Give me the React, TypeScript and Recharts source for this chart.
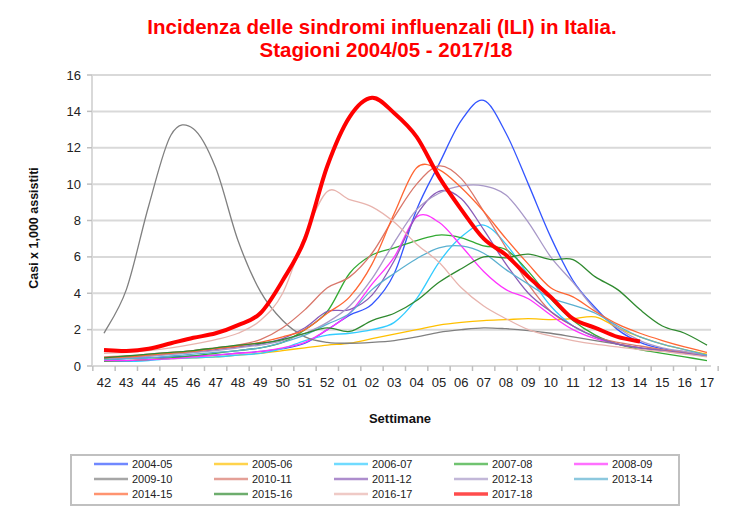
import React from 'react';
import { LineChart, Line, XAxis, YAxis, CartesianGrid } from 'recharts';

const weeks = ['42','43','44','45','46','47','48','49','50','51','52','01','02','03','04','05','06','07','08','09','10','11','12','13','14','15','16','17'];
const yTicks = [0, 2, 4, 6, 8, 10, 12, 14, 16];

const s2004_05 = [0.35,0.4,0.45,0.5,0.55,0.6,0.7,0.8,0.95,1.25,2.0,2.8,3.4,5.1,8.6,11.1,13.5,14.6,12.8,10.0,7.1,4.7,3.2,2.0,1.3,0.95,0.75,0.55];
const s2005_06 = [0.3,0.3,0.35,0.4,0.45,0.5,0.6,0.7,0.85,1.0,1.15,1.25,1.5,1.75,2.0,2.25,2.4,2.5,2.55,2.6,2.55,2.6,2.7,2.1,1.6,1.2,0.9,0.65];
const s2006_07 = [0.3,0.25,0.3,0.4,0.45,0.5,0.6,0.7,0.95,1.4,1.7,1.8,2.0,2.4,3.7,5.7,7.1,7.75,6.7,5.0,3.3,2.2,1.6,1.2,1.0,0.85,0.7,0.55];
const s2007_08 = [0.25,0.3,0.35,0.45,0.55,0.7,0.85,1.0,1.3,2.0,3.0,5.1,6.1,6.5,6.9,7.2,7.05,6.6,6.4,5.2,3.7,2.5,1.7,1.2,0.9,0.7,0.5,0.3];
const s2008_09 = [0.3,0.3,0.35,0.4,0.5,0.6,0.7,0.8,1.0,1.3,2.0,2.9,4.5,6.0,8.2,7.9,6.6,5.2,4.2,3.7,2.8,2.0,1.5,1.2,1.0,0.85,0.7,0.55];
const s2009_10 = [1.8,4.2,8.8,12.7,13.05,10.9,6.9,4.1,2.5,1.6,1.3,1.25,1.3,1.4,1.6,1.85,2.0,2.1,2.05,1.95,1.8,1.6,1.4,1.2,1.0,0.85,0.7,0.55];
const s2010_11 = [0.5,0.55,0.65,0.75,0.85,1.0,1.15,1.45,2.1,3.1,4.3,4.9,6.2,8.2,10.0,11.0,10.3,8.5,6.5,4.5,3.0,2.2,1.6,1.3,1.1,0.9,0.75,0.6];
const s2011_12 = [0.4,0.45,0.55,0.65,0.75,0.9,1.05,1.2,1.5,2.1,3.0,3.1,3.9,5.8,8.3,9.6,9.2,7.5,5.6,4.0,3.0,2.2,1.6,1.2,1.0,0.85,0.7,0.55];
const s2012_13 = [0.4,0.45,0.55,0.65,0.75,0.85,1.0,1.15,1.4,1.8,2.4,3.3,4.8,6.8,8.6,9.5,9.9,9.9,9.4,7.9,6.0,4.6,3.1,2.1,1.4,1.0,0.8,0.6];
const s2013_14 = [0.35,0.4,0.45,0.55,0.65,0.75,0.85,1.0,1.3,1.7,2.3,2.9,4.2,5.1,5.9,6.5,6.6,6.2,5.3,4.5,3.75,3.35,2.9,2.2,1.6,1.2,0.9,0.6];
const s2014_15 = [0.45,0.5,0.6,0.7,0.8,0.95,1.1,1.3,1.6,2.0,2.9,3.8,5.6,8.4,10.9,10.8,9.8,8.5,7.0,5.6,4.3,3.8,3.0,2.3,1.8,1.4,1.05,0.75];
const s2015_16 = [0.45,0.55,0.65,0.75,0.85,1.0,1.15,1.25,1.45,1.8,2.1,1.9,2.5,2.9,3.6,4.6,5.35,6.0,5.95,6.15,5.85,5.85,4.9,4.2,3.1,2.2,1.8,1.15];
const s2016_17 = [0.7,0.75,0.85,1.0,1.2,1.45,1.8,2.5,4.0,7.2,9.6,9.15,8.75,7.9,6.7,5.7,4.3,3.3,2.6,2.0,1.65,1.4,1.2,1.05,0.9,0.8,0.65,0.5];
const s2017_18 = [0.88,0.83,0.95,1.25,1.55,1.8,2.25,2.9,4.7,7.0,11.0,13.7,14.75,13.9,12.6,10.4,8.6,7.0,6.1,4.9,3.8,2.6,2.1,1.6,1.35];

const seasons = ['2004-05','2005-06','2006-07','2007-08','2008-09','2009-10','2010-11','2011-12','2012-13','2013-14','2014-15','2015-16','2016-17','2017-18'];
const seriesValues = [s2004_05,s2005_06,s2006_07,s2007_08,s2008_09,s2009_10,s2010_11,s2011_12,s2012_13,s2013_14,s2014_15,s2015_16,s2016_17,s2017_18];
const colors = ['#3355FF','#FFC000','#33CCFF','#33AA33','#FF33FF','#808080','#D9776B','#8A5CB8','#A898C8','#5BB0D0','#FF6633','#2F8A2F','#E8B4AE','#FF0000'];

const data = weeks.map((w, i) => {
  const row: Record<string, any> = { week: w };
  seasons.forEach((s, k) => {
    const v = seriesValues[k][i];
    row[s] = v === undefined ? null : v;
  });
  return row;
});

// Excel-like smoothed line (Catmull-Rom style Bezier through every point)
function smoothCurve(context: any) {
  let pts: [number, number][] = [];
  const draw = () => {
    const n = pts.length;
    if (n === 0) return;
    context.moveTo(pts[0][0], pts[0][1]);
    if (n === 1) return;
    for (let i = 0; i < n - 1; i++) {
      const p0 = pts[i - 1] || pts[i];
      const p1 = pts[i];
      const p2 = pts[i + 1];
      const p3 = pts[i + 2] || p2;
      const c1x = p1[0] + (p2[0] - p0[0]) / 6;
      const c1y = p1[1] + (p2[1] - p0[1]) / 6;
      const c2x = p2[0] - (p3[0] - p1[0]) / 6;
      const c2y = p2[1] - (p3[1] - p1[1]) / 6;
      context.bezierCurveTo(c1x, c1y, c2x, c2y, p2[0], p2[1]);
    }
  };
  return {
    areaStart() {},
    areaEnd() {},
    lineStart() { pts = []; },
    lineEnd() { draw(); pts = []; },
    point(x: number, y: number) { pts.push([+x, +y]); },
  };
}

const FONT = '"Liberation Sans", Arial, sans-serif';

const XTick = (props: any) => {
  const { x, y, payload, index } = props;
  const half = 11.17;
  return (
    <g>
      <line x1={x - half} x2={x - half} y1={y} y2={y + 5} stroke="#BFBFBF" strokeWidth={1.5} />
      {index === weeks.length - 1 && (
        <line x1={x + half} x2={x + half} y1={y} y2={y + 5} stroke="#BFBFBF" strokeWidth={1.5} />
      )}
      <text x={x} y={y + 12} dy="0.71em" textAnchor="middle" fontSize={13} fontFamily={FONT} fill="#222">
        {payload.value}
      </text>
    </g>
  );
};

export default function App() {
  const legendLeft = 71;
  const legendTop = 455;
  return (
    <div style={{ position: 'absolute', left: 0, top: 0, width: 741, height: 507, background: '#fff', fontFamily: FONT }}>
      <div style={{ position: 'absolute', left: 0, top: 0 }}>
        <LineChart width={741} height={507} data={data} margin={{ top: 75, right: 30, bottom: 111, left: 32 }}>
          <CartesianGrid vertical={false} stroke="#D9D9D9" strokeWidth={2} />
          <XAxis
            dataKey="week"
            height={30}
            interval={0}
            padding={{ left: 12, right: 4 }}
            tickLine={false}
            tickSize={0}
            tickMargin={0}
            axisLine={{ stroke: '#D9D9D9', strokeWidth: 2 }}
            tick={<XTick />}
          />
          <YAxis
            width={60}
            domain={[0, 16]}
            ticks={yTicks}
            interval={0}
            tickSize={5}
            tickMargin={6}
            tickLine={{ stroke: '#BFBFBF', strokeWidth: 1.5 }}
            axisLine={{ stroke: '#D9D9D9', strokeWidth: 2 }}
            tick={{ fontSize: 13, fontFamily: FONT, fill: '#222' }}
          />
          <YAxis
            yAxisId="border"
            orientation="right"
            width={0}
            domain={[0, 16]}
            tick={false}
            tickLine={false}
            axisLine={{ stroke: '#D9D9D9', strokeWidth: 2 }}
          />
          {seasons.map((s, k) => (
            <Line
              key={s}
              type={smoothCurve as any}
              dataKey={s}
              stroke={colors[k]}
              strokeWidth={s === '2017-18' ? 4 : 1.3}
              dot={false}
              activeDot={false}
              isAnimationActive={false}
            />
          ))}
        </LineChart>
      </div>
      <svg width={741} height={507} style={{ position: 'absolute', left: 0, top: 0, pointerEvents: 'none' }}>
        <text x={382} y={34} textAnchor="middle" fontSize={20.5} fontWeight="bold" fill="#FF0000" fontFamily={FONT}>
          Incidenza delle sindromi influenzali (ILI) in  Italia.
        </text>
        <text x={386} y={57} textAnchor="middle" fontSize={20.5} fontWeight="bold" fill="#FF0000" fontFamily={FONT}>
          Stagioni 2004/05 - 2017/18
        </text>
        <text x={38} y={228} transform="rotate(-90 38 228)" textAnchor="middle" fontSize={12.5} fontWeight="bold" fill="#111" fontFamily={FONT}>
          Casi x 1,000 assistiti
        </text>
        <text x={400} y={423} textAnchor="middle" fontSize={13} fontWeight="bold" fill="#111" fontFamily={FONT}>
          Settimane
        </text>
        <rect x={legendLeft} y={legendTop} width={608} height={50} fill="none" stroke="#C0C0C0" strokeWidth={2} />
        {seasons.map((s, k) => {
          const col = k % 5;
          const row = Math.floor(k / 5);
          const lx = 94 + col * 120;
          const ly = 464 + row * 15;
          return (
            <g key={s}>
              <line x1={lx} x2={lx + 34} y1={ly} y2={ly} stroke={colors[k]} strokeOpacity={0.7} strokeWidth={s === '2017-18' ? 3.5 : 2.5} />
              <text x={lx + 38} y={ly + 4} fontSize={11} fontFamily={FONT} fill="#222">{s}</text>
            </g>
          );
        })}
      </svg>
    </div>
  );
}
